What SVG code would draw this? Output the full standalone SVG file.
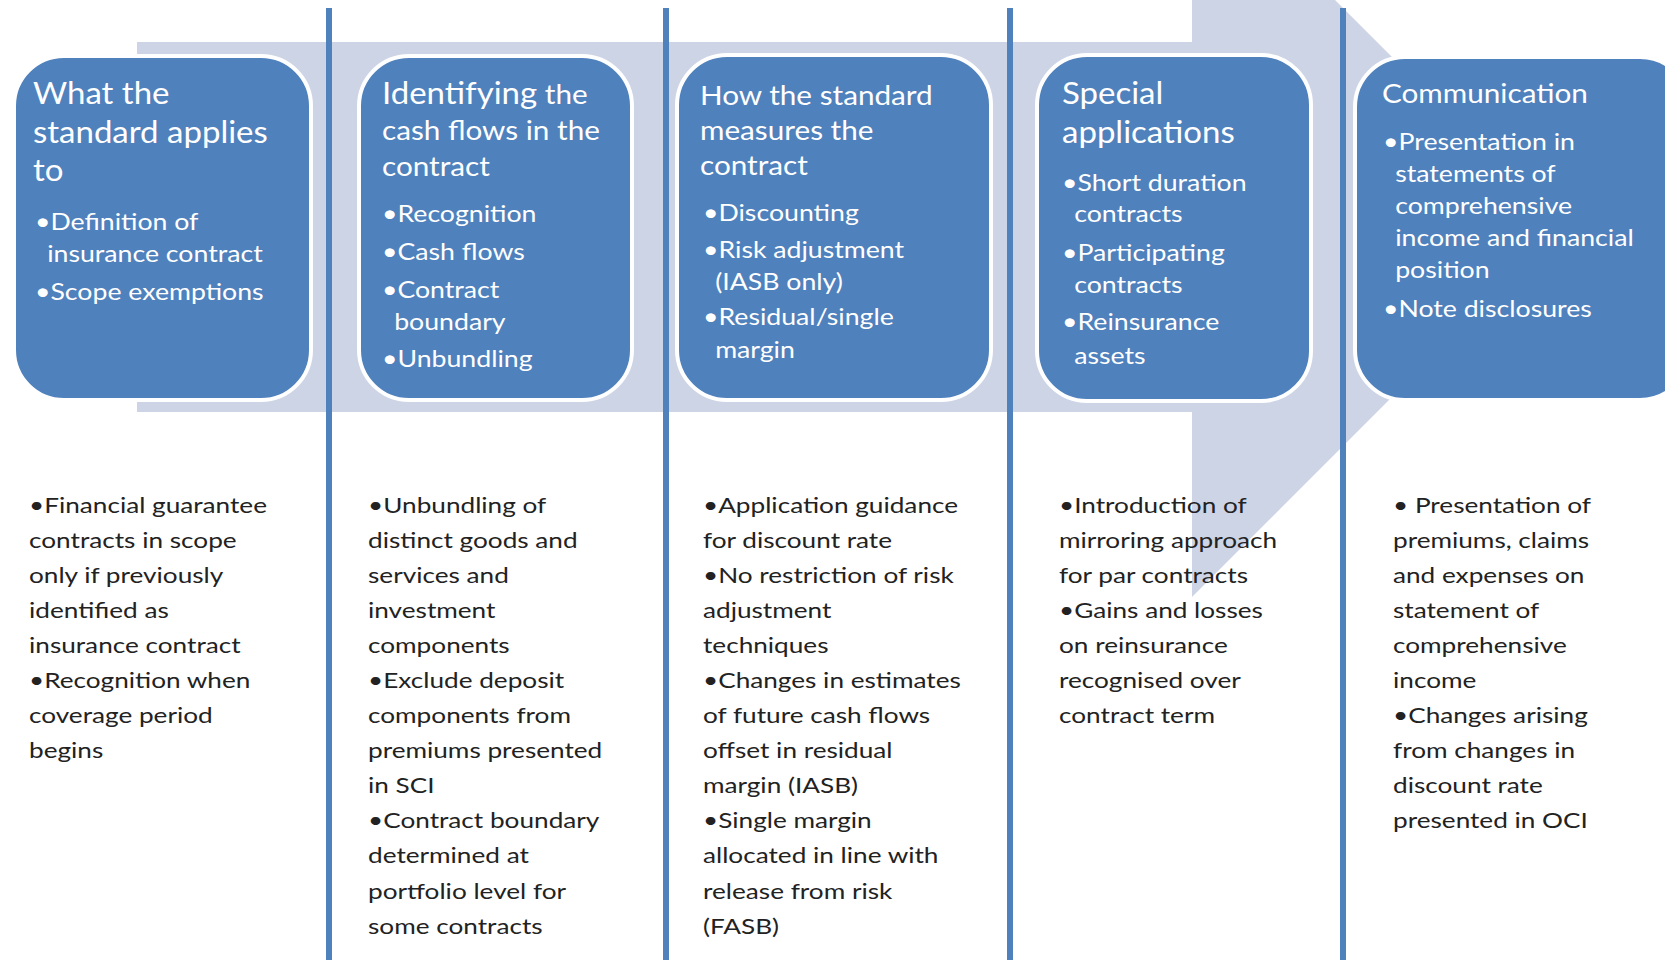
<svg xmlns="http://www.w3.org/2000/svg" width="1665" height="960" viewBox="0 0 1665 960">
<style>
.bg{fill:#ffffff}
.arrow{fill:#cdd4e6}
.box{fill:#4f81bd;stroke:#ffffff;stroke-width:4}
.vl{stroke:#4f81bd;stroke-width:6;fill:none}
.t{font-family:Lato,"Open Sans",sans-serif;fill:#ffffff}
.h{font-size:30px}
.hs{font-size:27px}
.b{font-size:23px}
.low{font-family:Lato,"Open Sans",sans-serif;font-size:22px;fill:#222222}
</style>
<rect class="bg" x="0" y="0" width="1665" height="960"/>
<polygon id="process-arrow" class="arrow" points="137,42 1192,42 1192,-143 1562,227 1192,597 1192,412 137,412"/>

<g id="connectors">
<line class="vl" x1="329" y1="8" x2="329" y2="960"/>
<line class="vl" x1="666" y1="8" x2="666" y2="960"/>
<line class="vl" x1="1010" y1="8" x2="1010" y2="960"/>
<line class="vl" x1="1343" y1="8" x2="1343" y2="960"/>
</g>

<g id="node-scope">
<rect class="box" x="14" y="56" width="297" height="344" rx="50"/>
<text class="t h" transform="translate(33 0) scale(1.1 1)"><tspan x="0" y="104">What the</tspan><tspan x="0" y="143">standard applies</tspan><tspan x="0" y="181">to</tspan></text>
<text class="t b" transform="translate(35 0) scale(1.16 1)"><tspan x="0" y="230">•Definition of</tspan><tspan x="10.5" y="262">insurance contract</tspan><tspan x="0" y="300">•Scope exemptions</tspan></text>
</g>

<g id="node-cashflows">
<rect class="box" x="359" y="56" width="273" height="344" rx="50"/>
<text class="t hs" transform="translate(382 0) scale(1.1 1)"><tspan x="0" y="104"><tspan style="font-size:30px">Identifying</tspan> the</tspan><tspan x="0" y="140">cash flows in the</tspan><tspan x="0" y="176">contract</tspan></text>
<text class="t b" transform="translate(382 0) scale(1.16 1)"><tspan x="0" y="222">•Recognition</tspan><tspan x="0" y="260">•Cash flows</tspan><tspan x="0" y="298">•Contract</tspan><tspan x="10.5" y="330">boundary</tspan><tspan x="0" y="367">•Unbundling</tspan></text>
</g>

<g id="node-measure">
<rect class="box" x="677" y="55" width="314" height="345" rx="50"/>
<text class="t hs" transform="translate(700 0) scale(1.1 1)"><tspan x="0" y="105">How the standard</tspan><tspan x="0" y="140">measures the</tspan><tspan x="0" y="175">contract</tspan></text>
<text class="t b" transform="translate(703 0) scale(1.16 1)"><tspan x="0" y="221">•Discounting</tspan><tspan x="0" y="258">•Risk adjustment</tspan><tspan x="10.5" y="290">(IASB only)</tspan><tspan x="0" y="325">•Residual/single</tspan><tspan x="10.5" y="358">margin</tspan></text>
</g>

<g id="node-special">
<rect class="box" x="1037" y="55" width="274" height="346" rx="50"/>
<text class="t h" transform="translate(1062 0) scale(1.1 1)"><tspan x="0" y="104">Special</tspan><tspan x="0" y="143">applications</tspan></text>
<text class="t b" transform="translate(1062 0) scale(1.16 1)"><tspan x="0" y="191">•Short duration</tspan><tspan x="10.5" y="222">contracts</tspan><tspan x="0" y="261">•Participating</tspan><tspan x="10.5" y="293">contracts</tspan><tspan x="0" y="330">•Reinsurance</tspan><tspan x="10.5" y="364">assets</tspan></text>
</g>

<g id="node-communication">
<rect class="box" x="1355" y="57" width="335" height="343" rx="50"/>
<text class="t hs" transform="translate(1382 0) scale(1.1 1)"><tspan x="0" y="103">Communication</tspan></text>
<text class="t b" transform="translate(1383 0) scale(1.16 1)"><tspan x="0" y="150">•Presentation in</tspan><tspan x="10.5" y="182">statements of</tspan><tspan x="10.5" y="214">comprehensive</tspan><tspan x="10.5" y="246">income and financial</tspan><tspan x="10.5" y="278">position</tspan><tspan x="0" y="317">•Note disclosures</tspan></text>
</g>

<g id="notes-scope">
<text class="low" transform="translate(29 0) scale(1.19 1)"><tspan x="0" y="513">•Financial guarantee</tspan><tspan x="0" dy="35.05">contracts in scope</tspan><tspan x="0" dy="35.05">only if previously</tspan><tspan x="0" dy="35.05">identified as</tspan><tspan x="0" dy="35.05">insurance contract</tspan><tspan x="0" dy="35.05">•Recognition when</tspan><tspan x="0" dy="35.05">coverage period</tspan><tspan x="0" dy="35.05">begins</tspan></text>
</g>
<g id="notes-cashflows">
<text class="low" transform="translate(368 0) scale(1.19 1)"><tspan x="0" y="513">•Unbundling of</tspan><tspan x="0" dy="35.05">distinct goods and</tspan><tspan x="0" dy="35.05">services and</tspan><tspan x="0" dy="35.05">investment</tspan><tspan x="0" dy="35.05">components</tspan><tspan x="0" dy="35.05">•Exclude deposit</tspan><tspan x="0" dy="35.05">components from</tspan><tspan x="0" dy="35.05">premiums presented</tspan><tspan x="0" dy="35.05">in SCI</tspan><tspan x="0" dy="35.05">•Contract boundary</tspan><tspan x="0" dy="35.05">determined at</tspan><tspan x="0" dy="35.05">portfolio level for</tspan><tspan x="0" dy="35.05">some contracts</tspan></text>
</g>
<g id="notes-measure">
<text class="low" transform="translate(703 0) scale(1.19 1)"><tspan x="0" y="513">•Application guidance</tspan><tspan x="0" dy="35.05">for discount rate</tspan><tspan x="0" dy="35.05">•No restriction of risk</tspan><tspan x="0" dy="35.05">adjustment</tspan><tspan x="0" dy="35.05">techniques</tspan><tspan x="0" dy="35.05">•Changes in estimates</tspan><tspan x="0" dy="35.05">of future cash flows</tspan><tspan x="0" dy="35.05">offset in residual</tspan><tspan x="0" dy="35.05">margin (IASB)</tspan><tspan x="0" dy="35.05">•Single margin</tspan><tspan x="0" dy="35.05">allocated in line with</tspan><tspan x="0" dy="35.05">release from risk</tspan><tspan x="0" dy="35.05">(FASB)</tspan></text>
</g>
<g id="notes-special">
<text class="low" transform="translate(1059 0) scale(1.19 1)"><tspan x="0" y="513">•Introduction of</tspan><tspan x="0" dy="35.05">mirroring approach</tspan><tspan x="0" dy="35.05">for par contracts</tspan><tspan x="0" dy="35.05">•Gains and losses</tspan><tspan x="0" dy="35.05">on reinsurance</tspan><tspan x="0" dy="35.05">recognised over</tspan><tspan x="0" dy="35.05">contract term</tspan></text>
</g>
<g id="notes-communication">
<text class="low" transform="translate(1393 0) scale(1.19 1)"><tspan x="0" y="513">• Presentation of</tspan><tspan x="0" dy="35.05">premiums, claims</tspan><tspan x="0" dy="35.05">and expenses on</tspan><tspan x="0" dy="35.05">statement of</tspan><tspan x="0" dy="35.05">comprehensive</tspan><tspan x="0" dy="35.05">income</tspan><tspan x="0" dy="35.05">•Changes arising</tspan><tspan x="0" dy="35.05">from changes in</tspan><tspan x="0" dy="35.05">discount rate</tspan><tspan x="0" dy="35.05">presented in OCI</tspan></text>
</g>
</svg>
